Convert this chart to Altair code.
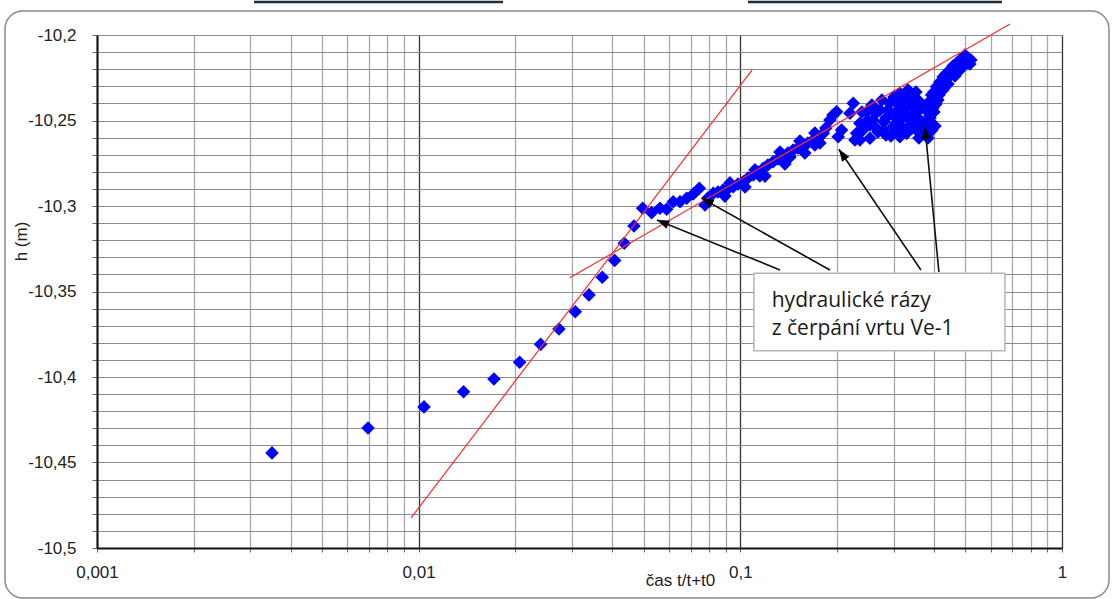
import math
import altair as alt
import pandas as pd

# ---------------- data ----------------
t_vals = [0.00350, 0.00696, 0.01039, 0.01379, 0.01714, 0.02060, 0.02394, 0.02730,
          0.03068, 0.03384, 0.03722, 0.04067, 0.04356, 0.04670, 0.04969, 0.05300,
          0.05625, 0.05901, 0.06186, 0.06492, 0.06810, 0.07140, 0.07453, 0.07762,
          0.07930, 0.08237, 0.08519, 0.08846, 0.09152, 0.09504, 0.09829, 0.1021,
          0.1056, 0.1097, 0.1134, 0.1150, 0.1178, 0.1218, 0.1265, 0.1309, 0.1359,
          0.1406, 0.1427, 0.1460, 0.1510, 0.1568, 0.1622, 0.1685, 0.1705, 0.1743,
          0.1810, 0.1845, 0.1899, 0.1941, 0.1992, 0.2015, 0.2064, 0.2192, 0.2244,
          0.2271, 0.2299, 0.2353, 0.2353, 0.2405, 0.2469, 0.2529, 0.2529, 0.2584,
          0.2639, 0.2716, 0.2781, 0.2836, 0.2836, 0.2917, 0.2987, 0.2987, 0.3046,
          0.3046, 0.3133, 0.3133, 0.3202, 0.3202, 0.3289, 0.3289, 0.3367, 0.3367,
          0.3448, 0.3448, 0.3516, 0.3532, 0.3617, 0.3617, 0.3695, 0.3795, 0.3795,
          0.3858, 0.3886, 0.3933, 0.3970, 0.3998, 0.4076, 0.4113, 0.4174, 0.4264,
          0.4273, 0.4357, 0.4419, 0.4484, 0.4581, 0.4646, 0.4704, 0.4816, 0.4816,
          0.4931, 0.4992, 0.5053, 0.5100,
          0.2388, 0.2493, 0.2565, 0.2639, 0.2677, 0.2755, 0.2795, 0.2876, 0.2938,
          0.3003, 0.3068, 0.3090, 0.3178, 0.3224, 0.3319, 0.3319, 0.3415, 0.3415,
          0.3489, 0.3565, 0.3591, 0.3669, 0.3722, 0.3802, 0.3831, 0.3886, 0.3998,
          0.4055, 0.4144, 0.4203, 0.4294, 0.4387, 0.4515, 0.4613, 0.4746, 0.4849,
          0.4955, 0.5100, 0.5173, 0.5210, 0.4027, 0.3942,
          0.08955, 0.1034, 0.1193, 0.1376, 0.1587, 0.1768,
          0.09284, 0.1110, 0.1328, 0.1532, 0.1705]
h_vals = [-10.4444, -10.4298, -10.4175, -10.4086, -10.4012, -10.3914, -10.3809, -10.3719,
          -10.3618, -10.3520, -10.3417, -10.3318, -10.3218, -10.3117, -10.3013, -10.3039,
          -10.3013, -10.3019, -10.2975, -10.2975, -10.2955, -10.2930, -10.2896, -10.2994,
          -10.2953, -10.2926, -10.2918, -10.2906, -10.2901, -10.2887, -10.2871, -10.2858,
          -10.2836, -10.2819, -10.2801, -10.2824, -10.2780, -10.2760, -10.2741, -10.2725, -10.2708,
          -10.2690, -10.2713, -10.2673, -10.2661, -10.2643, -10.2632, -10.2614, -10.2643, -10.2596,
          -10.2575, -10.2544, -10.2497, -10.2468, -10.2449, -10.2595, -10.2556, -10.2458, -10.2399,
          -10.2614, -10.2575, -10.2516, -10.2614, -10.2556, -10.2449, -10.2604, -10.2526, -10.2497,
          -10.2544, -10.2439, -10.2556, -10.2485, -10.2585, -10.2399, -10.2536, -10.2468, -10.2450,
          -10.2556, -10.2341, -10.2595, -10.2485, -10.2380, -10.2361, -10.2575, -10.2409, -10.2526,
          -10.2419, -10.2497, -10.2333, -10.2556, -10.2497, -10.2567, -10.2526, -10.2439, -10.2497,
          -10.2392, -10.2468, -10.2351, -10.2427, -10.2333, -10.2302, -10.2380, -10.2275, -10.2322,
          -10.2244, -10.2228, -10.2287, -10.2205, -10.2181, -10.2240, -10.2165, -10.2146, -10.2205,
          -10.2136, -10.2117, -10.2165, -10.2146,
          -10.2450, -10.2497, -10.2409, -10.2456, -10.2567, -10.2380, -10.2509, -10.2439, -10.2591,
          -10.2363, -10.2509, -10.2404, -10.2544, -10.2439, -10.2480, -10.2322, -10.2363, -10.2544,
          -10.2456, -10.2380, -10.2602, -10.2427, -10.2567, -10.2532, -10.2602, -10.2485, -10.2450,
          -10.2404, -10.2351, -10.2310, -10.2287, -10.2251, -10.2234, -10.2205, -10.2181, -10.2170,
          -10.2158, -10.2135, -10.2170, -10.2146, -10.2532, -10.2556,
          -10.2942, -10.2889, -10.2825, -10.2754, -10.2690, -10.2632,
          -10.2865, -10.2789, -10.2684, -10.2620, -10.2573]

steep_x = [0.00946, 0.1087]
steep_h = [-10.4825, -10.2205]
shallow_x = [0.0295, 0.689]
shallow_h = [-10.342, -10.1936]

arrow_tail_x = [0.1328, 0.1899, 0.3642, 0.4143]
arrow_tail_h = [-10.3374, -10.3374, -10.3374, -10.3386]
arrow_tip_x = [0.05505, 0.07580, 0.2025, 0.3749]
arrow_tip_h = [-10.3082, -10.2955, -10.2668, -10.2536]

box_x = [0.1102, 0.6646]
box_h = [-10.3394, -10.3846]
label_lines = ["hydraulické rázy", "z čerpání vrtu Ve-1"]
label_x = [0.1252, 0.1252]
label_h = [-10.3589, -10.3754]

x_grid = [k * d for d in [0.001, 0.01, 0.1] for k in range(1, 10)] + [1]
y_grid = [round(-10.5 + 0.01 * i, 2) for i in range(31)]

X_MIN, X_MAX = 0.001, 1
Y_MIN, Y_MAX = -10.5, -10.2

# ---------------- layout ----------------
W, H = 965, 513
PAD_L, PAD_T = 97, 35

xs = alt.Scale(type="log", domain=[X_MIN, X_MAX], nice=False)
ys = alt.Scale(domain=[Y_MIN, Y_MAX], nice=False, zero=False)


def px(x):
    return (math.log10(x) - math.log10(X_MIN)) / (math.log10(X_MAX) - math.log10(X_MIN)) * W


def py(h):
    return (Y_MAX - h) / (Y_MAX - Y_MIN) * H


angles = []
for tx, th, hx, hh in zip(arrow_tail_x, arrow_tail_h, arrow_tip_x, arrow_tip_h):
    dx = px(hx) - px(tx)
    dy = py(hh) - py(th)
    angles.append(math.degrees(math.atan2(dx, -dy)) % 360)

pts = pd.DataFrame({"t": t_vals, "h": h_vals})
red = pd.DataFrame({"t": [steep_x[0], shallow_x[0]], "t2": [steep_x[1], shallow_x[1]],
                    "h": [steep_h[0], shallow_h[0]], "h2": [steep_h[1], shallow_h[1]]})
arrows = pd.DataFrame({"t": arrow_tail_x, "h": arrow_tail_h, "t2": arrow_tip_x,
                       "h2": arrow_tip_h, "ang": angles})
box = pd.DataFrame({"t": [box_x[0]], "t2": [box_x[1]], "h": [box_h[0]], "h2": [box_h[1]]})
labels = pd.DataFrame({"t": label_x, "h": label_h, "txt": label_lines})
one = pd.DataFrame({"k": [0]})

is_decade = "abs(log(datum.value)/LN10 - round(log(datum.value)/LN10)) < 0.001"

x_axis = alt.Axis(
    values=x_grid, title="čas t/t+t0",
    labelExpr=f"{is_decade} ? replace('' + datum.value, '.', ',') : ''",
    labelFont="Liberation Sans", labelFontSize=17, labelColor="#222222",
    labelPadding=12, labelFlush=False, labelOverlap=False,
    tickSize=4, tickColor="#666666",
    grid=True,
    gridColor={"condition": {"test": is_decade, "value": "#333333"}, "value": "#a8a8a8"},
    gridWidth=1.3,
    domainColor="#111111", domainWidth=2,
    titleFont="Liberation Sans", titleFontSize=17, titleFontWeight="normal",
    titleColor="#222222", titleX=583, titleY=37, titleAlign="center",
    titleBaseline="alphabetic",
)
y_axis = alt.Axis(
    values=y_grid, title="h (m)",
    labelExpr="abs(round(datum.value*100) % 5) == 0 ? replace('' + datum.value, '.', ',') : ''",
    labelFont="Liberation Sans", labelFontSize=17, labelColor="#222222",
    labelPadding=16, labelOverlap=False, labelFlush=False,
    tickSize=5, tickColor="#666666",
    grid=True, gridColor="#8c8c8c", gridWidth=1.2,
    domainColor="#111111", domainWidth=2,
    titleFont="Liberation Sans", titleFontSize=17, titleFontWeight="normal",
    titleColor="#222222", titleX=-76, titleY=206, titleAngle=270,
    titleAlign="center", titleBaseline="middle",
)


def X(field):
    return alt.X(field, scale=xs, axis=x_axis)


def Y(field):
    return alt.Y(field, scale=ys, axis=y_axis)


border = alt.Chart(one).mark_rect(
    fillOpacity=0, stroke="#8a8a8a", strokeWidth=1.5, cornerRadius=18
).encode(x=alt.value(5 - PAD_L), x2=alt.value(1109 - PAD_L),
         y=alt.value(11 - PAD_T), y2=alt.value(598 - PAD_T))

top1 = alt.Chart(one).mark_rule(color="#1f2d3d", strokeWidth=2.5).encode(
    x=alt.value(254 - PAD_L), x2=alt.value(503 - PAD_L), y=alt.value(2 - PAD_T))
top2 = alt.Chart(one).mark_rule(color="#1f2d3d", strokeWidth=2.5).encode(
    x=alt.value(748 - PAD_L), x2=alt.value(1002 - PAD_L), y=alt.value(2 - PAD_T))

points = alt.Chart(pts).mark_point(
    shape="diamond", filled=True, size=185, color="#0000ff", opacity=1
).encode(x=X("t:Q"), y=Y("h:Q"))

red_lines = alt.Chart(red).mark_rule(color="#ff2a2a", strokeWidth=1.2).encode(
    x=X("t:Q"), x2="t2:Q", y=Y("h:Q"), y2="h2:Q")

box_rect = alt.Chart(box).mark_rect(fill="white", stroke="#b5b5b5", strokeWidth=1.5).encode(
    x=X("t:Q"), x2="t2:Q", y=Y("h:Q"), y2="h2:Q")

box_text = alt.Chart(labels).mark_text(
    align="left", baseline="alphabetic", font="Open Sans", fontSize=21, color="#1a1a1a"
).encode(x=X("t:Q"), y=Y("h:Q"), text="txt:N")

shafts = alt.Chart(arrows).mark_rule(color="#111111", strokeWidth=1.6).encode(
    x=X("t:Q"), x2="t2:Q", y=Y("h:Q"), y2="h2:Q")

heads = alt.Chart(arrows).mark_point(
    shape="M0,0L-0.8,2.2L0.8,2.2Z", filled=True, size=121, color="#000000", opacity=1
).encode(x=X("t2:Q"), y=Y("h2:Q"), angle=alt.Angle("ang:Q", scale=None))

chart = alt.layer(
    border, top1, top2, points, red_lines, shafts, heads, box_rect, box_text
).properties(
    width=W, height=H,
    autosize=alt.AutoSizeParams(type="none"),
    padding={"left": PAD_L, "top": PAD_T, "right": 1112 - PAD_L - W, "bottom": 599 - PAD_T - H},
    background="white",
).configure_view(strokeWidth=0)

chart.save("out.html", embed_options={"renderer": "svg", "actions": False})
